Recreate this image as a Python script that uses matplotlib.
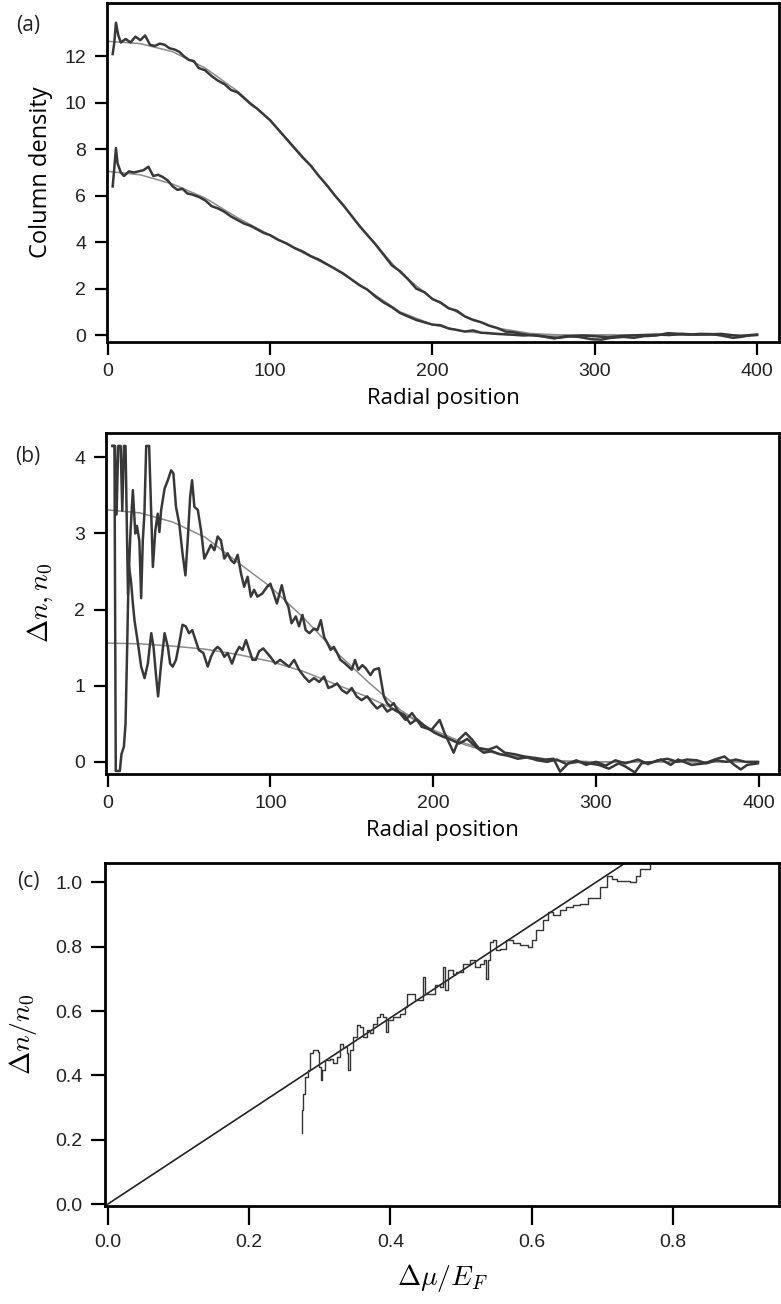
import numpy as np
import matplotlib
matplotlib.use("Agg")
import matplotlib.pyplot as plt

plt.rcParams['mathtext.fontset'] = 'cm'

# ---------------- panel (a): column density ----------------
a_top_r = [3, 4, 5, 6.5, 8, 11, 14, 17, 20, 23, 26, 29, 32, 35, 38, 41, 44, 47, 50, 53, 56, 60,
           64, 68, 72, 76, 80, 84, 88, 92, 96, 100, 105, 110, 115, 120, 125, 130, 135, 140, 145,
           150, 155, 160, 165, 170, 175, 180, 185, 190, 195, 200, 205, 210, 215, 220, 225, 230,
           235, 240, 245, 250, 255, 260, 268, 275, 282, 290, 298, 304, 310, 318, 324, 330, 338,
           345, 350, 358, 365, 372, 378, 385, 390, 395, 400]
a_top_n = [12.1, 12.6, 13.45, 12.9, 12.6, 12.75, 12.6, 12.85, 12.7, 12.9, 12.5, 12.45, 12.55, 12.5,
           12.35, 12.3, 12.2, 12.0, 11.85, 11.8, 11.5, 11.4, 11.15, 10.95, 10.8, 10.55, 10.45,
           10.2, 9.95, 9.75, 9.5, 9.25, 8.85, 8.45, 8.05, 7.65, 7.3, 6.85, 6.45, 6.0, 5.6, 5.15,
           4.7, 4.3, 3.9, 3.45, 3.0, 2.75, 2.4, 2.0, 1.85, 1.55, 1.4, 1.15, 1.05, 0.8, 0.65, 0.55,
           0.4, 0.3, 0.15, 0.12, 0.05, 0.0, -0.05, -0.15, -0.05, -0.08, -0.18, -0.2, -0.12, -0.08,
           -0.12, -0.05, -0.02, 0.08, 0.06, 0.02, 0.05, 0.04, -0.02, -0.12, -0.08, -0.02, 0.0]

a_low_r = [3, 4, 5, 6, 8, 10, 13, 16, 19, 22, 25, 28, 31, 34, 37, 40, 43, 46, 49, 52, 56, 60, 64,
           68, 72, 76, 80, 84, 88, 92, 96, 100, 105, 110, 115, 120, 125, 130, 135, 140, 145, 150,
           155, 160, 165, 170, 175, 180, 185, 190, 195, 200, 205, 210, 215, 220, 225, 230, 235,
           240, 248, 256, 262, 270, 278, 285, 292, 300, 308, 315, 322, 330, 338, 346, 354, 362,
           370, 378, 384, 390, 396, 400]
a_low_n = [6.4, 7.2, 8.05, 7.4, 7.0, 6.85, 7.05, 7.0, 7.05, 7.1, 7.25, 6.85, 6.9, 6.8, 6.65, 6.4,
           6.25, 6.3, 6.1, 6.05, 5.95, 5.8, 5.55, 5.45, 5.3, 5.1, 4.95, 4.8, 4.7, 4.55, 4.4, 4.3,
           4.1, 3.95, 3.75, 3.6, 3.4, 3.25, 3.05, 2.85, 2.65, 2.4, 2.15, 1.95, 1.65, 1.4, 1.2,
           0.95, 0.8, 0.65, 0.55, 0.45, 0.42, 0.28, 0.22, 0.15, 0.2, 0.1, 0.08, 0.05, 0.02, -0.02,
           0.0, -0.08, -0.12, -0.05, -0.02, -0.05, -0.1, -0.05, -0.02, 0.0, 0.02, 0.0, 0.05, 0.02,
           0.03, 0.05, 0.0, -0.05, 0.0, 0.02]

fit_r = [0, 20, 40, 60, 80, 100, 120, 140, 160, 180, 200, 220, 240, 260, 280, 300, 340, 400]
a_top_fit = [12.65, 12.55, 12.2, 11.5, 10.5, 9.25, 7.7, 6.0, 4.3, 2.7, 1.55, 0.8, 0.3, 0.07, 0.0,
             0.0, 0.0, 0.0]
a_low_fit = [7.05, 6.9, 6.5, 5.9, 5.05, 4.3, 3.55, 2.85, 1.95, 1.0, 0.45, 0.15, 0.03, 0.0, 0.0,
             0.0, 0.0, 0.0]

# ---------------- panel (b): delta n, n0 ----------------
b_hi_r = [3, 4.5, 5.5, 6.5, 8, 9, 10, 11, 12.5, 14, 15.5, 17, 18, 19.5, 20.6, 21.6, 22.6, 23.7,
          25.5, 26.8, 27.8, 29.3, 30.8, 31.8, 32.9, 35, 37, 39, 40.4, 42, 44, 46, 47.8, 49.2,
          50.7, 51.9, 53.3, 55.4, 57.4, 59.4, 61.5, 63.5, 65.6, 67.6, 69.6, 71.7, 73.7, 75.8,
          77.8, 79.9, 81.9, 83.9, 86, 88, 90, 92, 95, 98, 100, 102, 104, 107, 109, 111, 113,
          115.6, 117.6, 119.7, 121.7, 124, 126.8, 128.9, 131, 133, 135, 137, 139, 141, 143, 146,
          148, 150, 152, 154, 156.5, 158.5, 161.5, 163.6, 166.7, 168.3, 169.7, 171.7, 173.7,
          175.8, 178, 183, 187, 193, 199, 204, 207, 212.6, 215.7, 220, 224, 228, 234, 239, 244,
          250, 256, 263, 269, 274, 278, 283, 289, 295.6, 301.7, 308, 314, 318, 324, 328, 336,
          340, 346, 350.5, 358.7, 366.8, 373, 379, 385, 389, 393, 399.5]
b_hi_n = [4.15, 4.15, 3.25, 4.15, 4.15, 3.3, 4.15, 4.15, 2.2, 3.0, 3.57, 3.0, 3.1, 2.9, 2.15, 2.9,
          3.26, 4.15, 4.15, 3.26, 2.56, 3.04, 3.26, 3.02, 3.31, 3.59, 3.7, 3.83, 3.79, 3.35, 3.13,
          2.74, 2.45, 2.91, 3.48, 3.70, 3.35, 3.31, 3.04, 2.67, 2.76, 2.85, 2.78, 2.96, 2.91,
          2.67, 2.74, 2.65, 2.61, 2.72, 2.48, 2.30, 2.43, 2.17, 2.26, 2.17, 2.21, 2.30, 2.34,
          2.21, 2.08, 2.32, 2.13, 2.04, 1.82, 1.91, 1.78, 1.93, 1.73, 1.69, 1.75, 1.73, 1.86,
          1.64, 1.56, 1.47, 1.51, 1.43, 1.34, 1.29, 1.25, 1.21, 1.34, 1.21, 1.27, 1.23, 1.14,
          1.21, 1.23, 1.03, 0.86, 0.77, 0.73, 0.77, 0.68, 0.55, 0.64, 0.46, 0.42, 0.55, 0.38,
          0.12, 0.29, 0.38, 0.29, 0.18, 0.16, 0.2, 0.12, 0.1, 0.07, 0.05, 0.03, 0.04, -0.13,
          -0.02, 0.0, -0.02, -0.04, -0.09, -0.02, -0.06, -0.14, -0.02, 0.0, 0.03, -0.04, 0.03,
          -0.04, -0.02, 0.03, 0.07, -0.04, -0.1, -0.04, -0.02]

b_lo_r = [3, 4.2, 5, 7.5, 8.5, 10, 11, 12, 13, 14.5, 15.5, 16.5, 18.6, 20.6, 22.7, 24.7, 26.8,
          28.2, 29.8, 31, 32.9, 35, 37, 38.4, 40, 42, 44, 46, 48, 50, 52, 54, 56, 58.8, 61.5,
          63.5, 65.6, 67.6, 69.6, 71.7, 73.7, 76.4, 78.8, 80.9, 82.9, 85, 87, 89, 91, 93, 95.6,
          98, 100, 103, 106, 109, 111.5, 114.6, 117.6, 120.7, 123.8, 126.8, 130, 133, 135.6,
          138, 141, 144, 147, 150, 153, 156, 159.5, 162.6, 165.6, 168.7, 171.8, 174.8, 178,
          182, 186, 190, 196, 201, 206, 210, 216, 221, 226, 231, 236, 241, 246, 252, 258, 264,
          270, 276, 282, 288, 294, 300, 306, 312, 318, 326, 332, 338, 344, 350, 356, 362, 368,
          374, 380, 386, 392, 399.5]
b_lo_n = [4.15, 4.15, -0.12, -0.12, 0.1, 0.2, 0.5, 1.5, 2.6, 2.34, 2.08, 1.86, 1.56, 1.25, 1.10,
          1.29, 1.69, 1.51, 1.12, 0.86, 1.29, 1.69, 1.51, 1.29, 1.25, 1.34, 1.56, 1.80, 1.78,
          1.69, 1.73, 1.60, 1.47, 1.43, 1.25, 1.38, 1.47, 1.51, 1.47, 1.38, 1.43, 1.29, 1.43,
          1.51, 1.47, 1.60, 1.47, 1.34, 1.34, 1.45, 1.49, 1.43, 1.38, 1.29, 1.34, 1.29, 1.25,
          1.34, 1.21, 1.12, 1.05, 1.10, 1.05, 1.12, 0.97, 0.99, 1.03, 0.94, 0.90, 0.97, 0.86,
          0.81, 0.86, 0.77, 0.70, 0.75, 0.66, 0.70, 0.66, 0.62, 0.5, 0.56, 0.45, 0.38, 0.33,
          0.3, 0.24, 0.3, 0.2, 0.12, 0.14, 0.1, 0.08, 0.04, 0.06, 0.02, 0.0, 0.03, -0.03, 0.02,
          -0.04, 0.0, -0.05, 0.02, -0.02, 0.03, -0.03, 0.02, 0.04, 0.0, 0.03, 0.02, -0.02, 0.02,
          0.0, 0.03, 0.0, 0.0]

b_hi_fit = [3.31, 3.27, 3.15, 2.95, 2.62, 2.3, 1.9, 1.45, 1.05, 0.68, 0.4, 0.22, 0.1, 0.04, 0.01,
            0.0, 0.0, 0.0]
b_lo_fit = [1.56, 1.55, 1.52, 1.48, 1.41, 1.32, 1.19, 1.02, 0.85, 0.65, 0.42, 0.24, 0.11, 0.04,
            0.01, 0.0, 0.0, 0.0]

# ---------------- panel (c): delta n / n0 vs delta mu / E_F ----------------
c_mu = [0.2744, 0.2744, 0.2768, 0.2791, 0.2838, 0.286, 0.2909, 0.298, 0.2995, 0.3012, 0.303,
        0.3075, 0.3145, 0.3193, 0.324, 0.3286, 0.3334, 0.338, 0.3404, 0.3427, 0.3474, 0.352,
        0.3569, 0.3616, 0.3663, 0.371, 0.3757, 0.3805, 0.3852, 0.39, 0.3936, 0.397, 0.404,
        0.4134, 0.4205, 0.4228, 0.4299, 0.435, 0.4417, 0.4455, 0.449, 0.4558, 0.4629, 0.47,
        0.4747, 0.4770, 0.4817, 0.488, 0.4935, 0.503, 0.5124, 0.5195, 0.5265, 0.532, 0.535,
        0.538, 0.5415, 0.5453, 0.55, 0.5548, 0.5642, 0.5736, 0.583, 0.5948, 0.600, 0.6066,
        0.616, 0.6231, 0.6302, 0.6396, 0.649, 0.6584, 0.6678, 0.68, 0.696, 0.707, 0.714, 0.721,
        0.739, 0.747, 0.753, 0.767]
c_dn = [0.220, 0.292, 0.343, 0.395, 0.416, 0.468, 0.478, 0.473, 0.426, 0.385, 0.416, 0.447,
        0.452, 0.437, 0.457, 0.499, 0.489, 0.468, 0.416, 0.478, 0.520, 0.556, 0.551, 0.520,
        0.541, 0.531, 0.561, 0.582, 0.592, 0.582, 0.535, 0.571, 0.582, 0.592, 0.613, 0.654,
        0.654, 0.634, 0.634, 0.706, 0.654, 0.654, 0.680, 0.675, 0.737, 0.665, 0.727, 0.716,
        0.722, 0.747, 0.758, 0.737, 0.747, 0.758, 0.700, 0.758, 0.815, 0.820, 0.789, 0.794,
        0.820, 0.810, 0.804, 0.799, 0.820, 0.851, 0.882, 0.908, 0.898, 0.913, 0.924, 0.929,
        0.934, 0.95, 0.985, 1.02, 1.01, 1.005, 1.0, 1.02, 1.04, 1.06]
c_line_mu = [0.0, 0.76]
c_line_dn = [0.0, 1.1]

tick_font = 'Liberation Sans'
label_font = 'Open Sans'
W, H = 781, 1304
fig = plt.figure(figsize=(W / 100, H / 100), dpi=100)


def frac_box(x0, y0, x1, y1):
    # pixel box (left, top, right, bottom) -> figure fraction rect
    return [x0 / W, 1 - y1 / H, (x1 - x0) / W, (y1 - y0) / H]


def style(ax, xlen=9, ylen=9):
    for s in ax.spines.values():
        s.set_linewidth(2.0)
    ax.tick_params(axis='x', direction='out', length=xlen, width=1.6, pad=6, labelsize=14)
    ax.tick_params(axis='y', direction='out', length=ylen, width=1.6, pad=6, labelsize=14)
    for lab in ax.get_xticklabels() + ax.get_yticklabels():
        lab.set_fontfamily(tick_font)
        lab.set_color('#222222')


data_col = '#383838'
fit_col = '#8c8c8c'

# panel (a)
ax1 = fig.add_axes(frac_box(107, 3, 779, 342))
ax1.plot(fit_r, a_top_fit, color=fit_col, lw=1.1)
ax1.plot(fit_r, a_low_fit, color=fit_col, lw=1.1)
ax1.plot(a_top_r, a_top_n, color=data_col, lw=1.8)
ax1.plot(a_low_r, a_low_n, color=data_col, lw=1.8)
ax1.set_xlim(-0.5, 413.5)
ax1.set_ylim(-0.3, 14.3)
ax1.set_xticks([0, 100, 200, 300, 400])
ax1.set_yticks([0, 2, 4, 6, 8, 10, 12])
style(ax1)
ax1.set_xlabel('Radial position', fontfamily=label_font, fontsize=16, labelpad=6)
ax1.set_ylabel('Column density', fontfamily=label_font, fontsize=17, labelpad=8)

# panel (b)
ax2 = fig.add_axes(frac_box(106, 433, 779, 774))
ax2.plot(fit_r, b_hi_fit, color=fit_col, lw=1.1)
ax2.plot(fit_r, b_lo_fit, color=fit_col, lw=1.1)
ax2.plot(b_hi_r, b_hi_n, color=data_col, lw=1.8)
ax2.plot(b_lo_r, b_lo_n, color=data_col, lw=1.8)
ax2.set_xlim(-1, 412.5)
ax2.set_ylim(-0.16, 4.32)
ax2.set_xticks([0, 100, 200, 300, 400])
ax2.set_yticks([0, 1, 2, 3, 4])
style(ax2)
ax2.set_xlabel('Radial position', fontfamily=label_font, fontsize=16, labelpad=6)
ax2.set_ylabel(r'$\Delta n, n_0$', fontsize=20, labelpad=14)

# panel (c)
ax3 = fig.add_axes(frac_box(105, 863, 779, 1206))
ax3.plot(c_line_mu, c_line_dn, color='#222222', lw=1.2)
ax3.plot(c_mu, c_dn, color='#333333', lw=1.0, drawstyle='steps-post')
ax3.set_xlim(-0.004, 0.95)
ax3.set_ylim(-0.006, 1.06)
ax3.set_xticks([0.0, 0.2, 0.4, 0.6, 0.8])
ax3.set_yticks([0.0, 0.2, 0.4, 0.6, 0.8, 1.0])
ax3.set_xticklabels(['0.0', '0.2', '0.4', '0.6', '0.8'])
ax3.set_yticklabels(['0.0', '0.2', '0.4', '0.6', '0.8', '1.0'])
style(ax3, xlen=14, ylen=10)
ax3.set_xlabel(r'$\Delta\mu/E_F$', fontsize=20, labelpad=8)
ax3.set_ylabel(r'$\Delta n/n_0$', fontsize=20, labelpad=12)

for txt, y in [('(a)', 25), ('(b)', 457), ('(c)', 882)]:
    fig.text(28 / W, 1 - y / H, txt, fontfamily=label_font, fontsize=15,
             ha='center', va='center', color='#222222')

fig.savefig('out.png', dpi=100)
